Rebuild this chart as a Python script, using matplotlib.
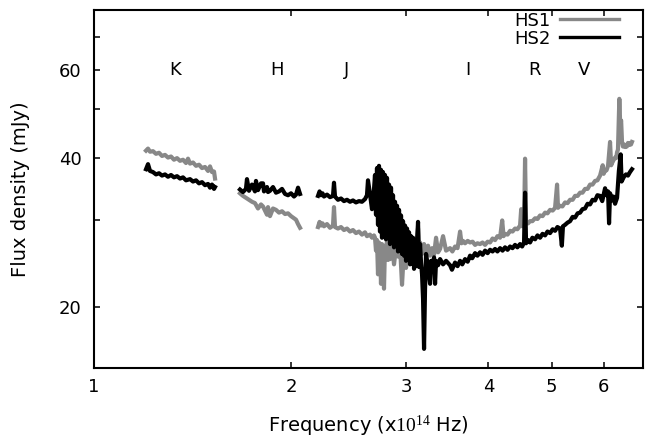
import numpy as np
import matplotlib
matplotlib.use('Agg')
import matplotlib.pyplot as plt
from matplotlib.ticker import FixedLocator, NullLocator, FixedFormatter

# ── Style ────────────────────────────────────────────────────────────────────
plt.rcParams.update({
    'font.family':      'DejaVu Sans',
    'font.size':        13,
    'mathtext.fontset': 'custom',
    'mathtext.rm':      'Liberation Serif',
    'mathtext.it':      'Liberation Serif:italic',
    'path.simplify':    False,
})

GREY  = '#888888'
BLACK = '#000000'

# ── Spectra (frequency in 1e14 Hz, flux density in mJy) ───────────────────────
# HS1, K band
hs1_k_freq = [1.2007, 1.2092, 1.2177, 1.2306, 1.2437, 1.2569, 1.2702, 1.2837, 1.2973,
              1.3110, 1.3249, 1.3390, 1.3532, 1.3675, 1.3820, 1.3918, 1.4016, 1.4165,
              1.4315, 1.4467, 1.4620, 1.4775, 1.4932, 1.5037, 1.5143, 1.5250, 1.5304]
hs1_k_flux = [41.3, 41.7, 41.1, 41.2, 40.7, 40.9, 40.3, 40.5, 40.0,
              40.2, 39.6, 39.9, 39.4, 39.6, 39.0, 39.8, 38.9, 39.1,
              38.5, 38.7, 38.1, 38.3, 37.6, 38.4, 37.4, 37.5, 36.3]

# HS1, H band
hs1_h_freq = [1.6707, 1.6884, 1.7063, 1.7244, 1.7427, 1.7612, 1.7799, 1.7988, 1.8115,
              1.8372, 1.8437, 1.8567, 1.8764, 1.8963, 1.9165, 1.9368, 1.9574, 1.9781,
              1.9991, 2.0203, 2.0346, 2.0490, 2.0635]
hs1_h_flux = [33.9, 33.5, 33.2, 32.9, 32.6, 32.4, 31.6, 32.2, 31.9,
              30.7, 31.8, 30.5, 31.6, 31.4, 31.0, 31.2, 30.8, 30.9,
              30.5, 30.2, 30.0, 29.4, 28.9]

# HS1, J band through V band
hs1_jv_freq = [2.1980, 2.2100, 2.2213, 2.2330, 2.2448, 2.2686, 2.2927, 2.3170, 2.3251,
               2.3333, 2.3580, 2.3830, 2.4083, 2.4338, 2.4596, 2.4857, 2.5119, 2.5385,
               2.5655, 2.5927, 2.6110, 2.6387, 2.6574, 2.6761,
               2.6856, 2.6950, 2.7045, 2.7141, 2.7236, 2.7332, 2.7428, 2.7525, 2.7622,
               2.7720, 2.7817, 2.7915, 2.8014, 2.8113, 2.8212, 2.8312, 2.8512, 2.8713,
               2.8916, 2.9120, 2.9326, 2.9533, 2.9741, 2.9952, 3.0163, 3.0376, 3.0591,
               3.0807, 3.1024, 3.1243, 3.1353, 3.1464, 3.1686, 3.1910, 3.2135, 3.2362,
               3.2591, 3.2821, 3.3053, 3.3286, 3.3521, 3.3758, 3.4116, 3.4478,
               3.4966, 3.5250, 3.5587, 3.5900, 3.6218, 3.6400, 3.6600, 3.6860, 3.7200,
               3.7514, 3.7850, 3.8179, 3.8500, 3.8856, 3.9200, 3.9545, 3.9900, 4.0246,
               4.0600, 4.0960, 4.1300, 4.1686, 4.2000, 4.2200, 4.2425, 4.2800, 4.3177,
               4.3550, 4.3943, 4.4300, 4.4722, 4.4900, 4.5100, 4.5355, 4.5515, 4.5675,
               4.6000, 4.6323, 4.6700, 4.7144, 4.7550, 4.7980, 4.8400, 4.8831, 4.9250,
               4.9697, 5.0150, 5.0578, 5.0935, 5.1100, 5.1475, 5.1900, 5.2387, 5.2850,
               5.3316, 5.3800, 5.4261, 5.4750, 5.5224, 5.5700, 5.6203, 5.6700, 5.7199,
               5.7700, 5.8214, 5.8700, 5.9246, 5.9800, 6.0000, 6.0297, 6.0600, 6.0934,
               6.1364, 6.1600, 6.1797, 6.2100, 6.2452, 6.2700, 6.2893, 6.3096, 6.3400,
               6.3600, 6.3800, 6.4000, 6.4200, 6.4441, 6.4700, 6.4896, 6.5100, 6.5354,
               6.5600, 6.5815, 6.6050, 6.6280]
hs1_jv_flux = [29.0, 29.7, 29.2, 29.5, 29.1, 29.4, 28.9, 29.2, 31.8,
               29.0, 28.8, 29.0, 28.6, 28.8, 28.4, 28.6, 28.2, 28.4,
               28.0, 28.3, 27.8, 28.0, 27.6, 27.9,
               27.6, 26.0, 27.3, 23.3, 27.0, 26.4, 22.3, 26.8, 25.4,
               21.8, 26.6, 25.5, 27.4, 24.9, 26.8, 25.0, 27.0, 24.4,
               26.4, 25.3, 26.6, 22.2, 26.2, 24.0, 26.4, 27.2, 25.8,
               27.0, 26.3, 28.8, 26.0, 27.0, 25.6, 26.8, 25.5, 26.6,
               25.4, 26.3, 25.5, 27.6, 25.8, 26.2, 27.8, 26.0,
               26.3, 25.9, 26.5, 26.3, 28.4, 26.9, 27.2, 26.9, 27.2,
               27.0, 27.1, 26.7, 26.9, 26.8, 27.0, 26.7, 27.1, 27.0,
               27.5, 27.3, 27.8, 27.6, 29.9, 27.8, 28.1, 28.0, 28.5,
               28.4, 28.8, 28.7, 29.2, 31.5, 29.1, 29.4, 39.8, 29.5,
               29.5, 29.8, 29.8, 30.2, 30.1, 30.6, 30.5, 31.0, 30.9,
               31.4, 31.3, 31.7, 35.3, 31.7, 32.0, 31.9, 32.5, 32.4,
               32.9, 32.9, 33.5, 33.5, 34.0, 34.0, 34.6, 34.6, 35.3,
               35.3, 35.9, 36.0, 36.8, 38.6, 37.1, 37.7, 37.7, 38.5,
               43.0, 38.6, 39.0, 39.5, 40.0, 39.9, 41.0, 41.5, 52.5,
               46.5, 47.5, 43.0, 42.1, 42.5, 42.0, 42.4, 42.1, 42.8,
               42.4, 42.8, 42.5, 43.0]

# HS2, K band
hs2_k_freq = [1.2007, 1.2092, 1.2177, 1.2306, 1.2437, 1.2569, 1.2702, 1.2837, 1.2973,
              1.3110, 1.3249, 1.3390, 1.3532, 1.3675, 1.3820, 1.4016, 1.4165, 1.4315,
              1.4467, 1.4620, 1.4775, 1.4932, 1.5037, 1.5143, 1.5250, 1.5304]
hs2_k_flux = [37.9, 38.8, 37.6, 37.4, 37.0, 37.2, 36.8, 37.0, 36.6,
              36.9, 36.5, 36.7, 36.3, 36.5, 36.0, 36.2, 35.8, 36.0,
              35.5, 35.7, 35.2, 35.4, 34.8, 35.3, 34.6, 34.9]

# HS2, H band
hs2_h_freq = [1.6707, 1.6884, 1.7063, 1.7123, 1.7244, 1.7427, 1.7612, 1.7674, 1.7799,
              1.7988, 1.8115, 1.8179, 1.8372, 1.8437, 1.8567, 1.8764, 1.8963, 1.9165,
              1.9368, 1.9574, 1.9781, 1.9991, 2.0203, 2.0346, 2.0490, 2.0635]
hs2_h_flux = [34.5, 34.1, 34.6, 36.2, 34.3, 35.3, 34.2, 35.9, 34.4,
              35.5, 35.5, 34.2, 34.9, 34.1, 34.3, 34.9, 34.0, 34.2,
              34.6, 33.8, 33.6, 33.9, 33.4, 33.7, 34.8, 33.8]

# HS2, J band through V band
hs2_jv_freq = [2.1980, 2.2100, 2.2213, 2.2330, 2.2448, 2.2686, 2.2927, 2.3170, 2.3251,
               2.3333, 2.3580, 2.3830, 2.4083, 2.4338, 2.4596, 2.4857, 2.5119, 2.5385,
               2.5655, 2.5927, 2.6110, 2.6202, 2.6387, 2.6574, 2.6761,
               2.6856, 2.6950, 2.7045, 2.7141, 2.7236, 2.7332, 2.7428, 2.7525, 2.7622,
               2.7720, 2.7817, 2.7915, 2.8014, 2.8113, 2.8212, 2.8312, 2.8412, 2.8512,
               2.8612, 2.8713, 2.8814, 2.8916, 2.9018, 2.9120, 2.9223, 2.9326, 2.9429,
               2.9533, 2.9637, 2.9741, 2.9846, 2.9952, 3.0057, 3.0163, 3.0269, 3.0376,
               3.0483, 3.0591, 3.0699, 3.0807, 3.0915, 3.1024, 3.1133, 3.1243, 3.1353,
               3.1464, 3.1575, 3.1686, 3.1798, 3.1910, 3.2022, 3.2135, 3.2362, 3.2591,
               3.2706, 3.2821, 3.3053, 3.3170, 3.3286, 3.3521, 3.3758, 3.4116, 3.4478,
               3.4966, 3.5200, 3.5587, 3.5900, 3.6218, 3.6500, 3.6860, 3.7200, 3.7514,
               3.7800, 3.8179, 3.8500, 3.8856, 3.9200, 3.9545, 3.9900, 4.0246, 4.0600,
               4.0960, 4.1300, 4.1686, 4.2050, 4.2425, 4.2800, 4.3177, 4.3550, 4.3943,
               4.4300, 4.4722, 4.5050, 4.5355, 4.5515, 4.5675, 4.6000, 4.6323, 4.6700,
               4.7144, 4.7550, 4.7980, 4.8400, 4.8831, 4.9250, 4.9697, 5.0150, 5.0578,
               5.1000, 5.1475, 5.1800, 5.2000, 5.2387, 5.2850, 5.3316, 5.3800, 5.4261,
               5.4750, 5.5224, 5.5700, 5.6203, 5.6700, 5.7199, 5.7700, 5.8214, 5.8700,
               5.9246, 5.9700, 6.0297, 6.0600, 6.0934, 6.1150, 6.1364, 6.1797, 6.2100,
               6.2452, 6.2893, 6.3300, 6.3700, 6.3900, 6.4441, 6.4896, 6.5354, 6.5815,
               6.6280]
hs2_jv_flux = [33.5, 34.2, 33.6, 33.9, 33.4, 33.7, 33.3, 33.5, 35.6,
               33.4, 32.9, 33.1, 32.7, 32.9, 32.6, 32.8, 32.5, 32.7,
               32.6, 33.0, 33.6, 36.0, 33.8, 31.5, 34.5,
               36.9, 30.7, 38.1, 29.3, 38.5, 28.4, 37.8, 27.6, 37.4,
               28.9, 36.9, 27.4, 36.4, 28.0, 35.3, 26.8, 34.8, 27.0,
               33.6, 26.4, 32.6, 26.6, 32.0, 25.9, 31.4, 26.0, 30.6,
               25.6, 29.8, 25.4, 29.2, 24.8, 28.8, 24.9, 28.3, 24.4,
               27.8, 24.5, 27.6, 23.9, 27.2, 24.2, 27.0, 29.7, 24.1,
               26.8, 24.6, 23.3, 20.8, 16.5, 21.8, 25.6, 24.1, 22.3,
               24.8, 24.1, 25.2, 22.3, 24.8, 24.3, 25.0, 24.4, 24.8,
               24.3, 23.8, 24.6, 24.2, 24.8, 24.4, 25.0, 24.7, 25.4,
               25.1, 25.7, 25.4, 25.8, 25.5, 26.0, 25.7, 26.1, 25.9,
               26.2, 25.9, 26.3, 26.0, 26.4, 26.1, 26.5, 26.3, 26.7,
               26.4, 26.8, 26.5, 27.0, 34.0, 26.9, 27.3, 27.0, 27.6,
               27.4, 27.9, 27.6, 28.1, 27.9, 28.4, 28.2, 28.7, 28.5,
               29.0, 28.8, 26.6, 29.1, 29.3, 29.6, 29.8, 30.4, 30.3,
               30.9, 31.0, 31.5, 31.6, 32.3, 32.2, 32.9, 32.8, 33.6,
               33.5, 32.7, 34.7, 33.6, 34.2, 29.5, 33.9, 32.8, 33.4,
               32.3, 33.2, 37.6, 40.6, 35.8, 36.6, 37.0, 36.8, 37.4,
               37.9]

# photometric band labels
band_names = ['K', 'H', 'J', 'I', 'R', 'V']
band_freq  = [1.33, 1.90, 2.43, 3.72, 4.71, 5.60]
band_flux  = 60

# ── Figure ───────────────────────────────────────────────────────────────────
fig = plt.figure(figsize=(6.45, 4.41), dpi=100)
ax = fig.add_axes([0.1457, 0.1655, 0.8512, 0.8118])

lw = 3.0
line_hs1 = None
for f, v in [(hs1_k_freq, hs1_k_flux), (hs1_h_freq, hs1_h_flux), (hs1_jv_freq, hs1_jv_flux)]:
    l, = ax.plot(f, v, color=GREY, lw=lw, solid_joinstyle='round')
    line_hs1 = line_hs1 or l
line_hs2 = None
for f, v in [(hs2_k_freq, hs2_k_flux), (hs2_h_freq, hs2_h_flux), (hs2_jv_freq, hs2_jv_flux)]:
    l, = ax.plot(f, v, color=BLACK, lw=lw, solid_joinstyle='round')
    line_hs2 = line_hs2 or l

for name, fr in zip(band_names, band_freq):
    ax.text(fr, band_flux, name, ha='center', va='center', fontsize=13)

ax.set_xscale('log')
ax.set_yscale('log')
ax.set_xlim(1, 6.89)
ax.set_ylim(15.1, 79.2)

ax.xaxis.set_major_locator(FixedLocator([1, 2, 3, 4, 5, 6]))
ax.xaxis.set_major_formatter(FixedFormatter(['1', '2', '3', '4', '5', '6']))
ax.xaxis.set_minor_locator(NullLocator())
ax.yaxis.set_major_locator(FixedLocator([20, 30, 40, 50, 60, 70]))
ax.yaxis.set_major_formatter(FixedFormatter(['20', '', '40', '', '60', '']))
ax.yaxis.set_minor_locator(NullLocator())

ax.tick_params(which='both', direction='in', top=True, right=True,
               length=4.5, width=1.1, labelsize=13)
ax.tick_params(axis='y', pad=9)
ax.tick_params(axis='x', pad=7)
for sp in ax.spines.values():
    sp.set_linewidth(1.5)

ax.set_xlabel(r'Frequency (x$\mathrm{10}^{14}$ Hz)', fontsize=14, labelpad=13)
ax.set_ylabel('Flux density (mJy)', fontsize=14, labelpad=21)

leg = ax.legend([line_hs1, line_hs2], ['HS1', 'HS2'], loc='upper right',
                bbox_to_anchor=(0.96, 1.0), frameon=False, markerfirst=False,
                handlelength=3.3, handletextpad=0.5, labelspacing=0.0,
                borderaxespad=0, borderpad=0.1, fontsize=13)
for h in leg.legend_handles:
    h.set_linewidth(2.4)

fig.savefig('out.png', dpi=100)
